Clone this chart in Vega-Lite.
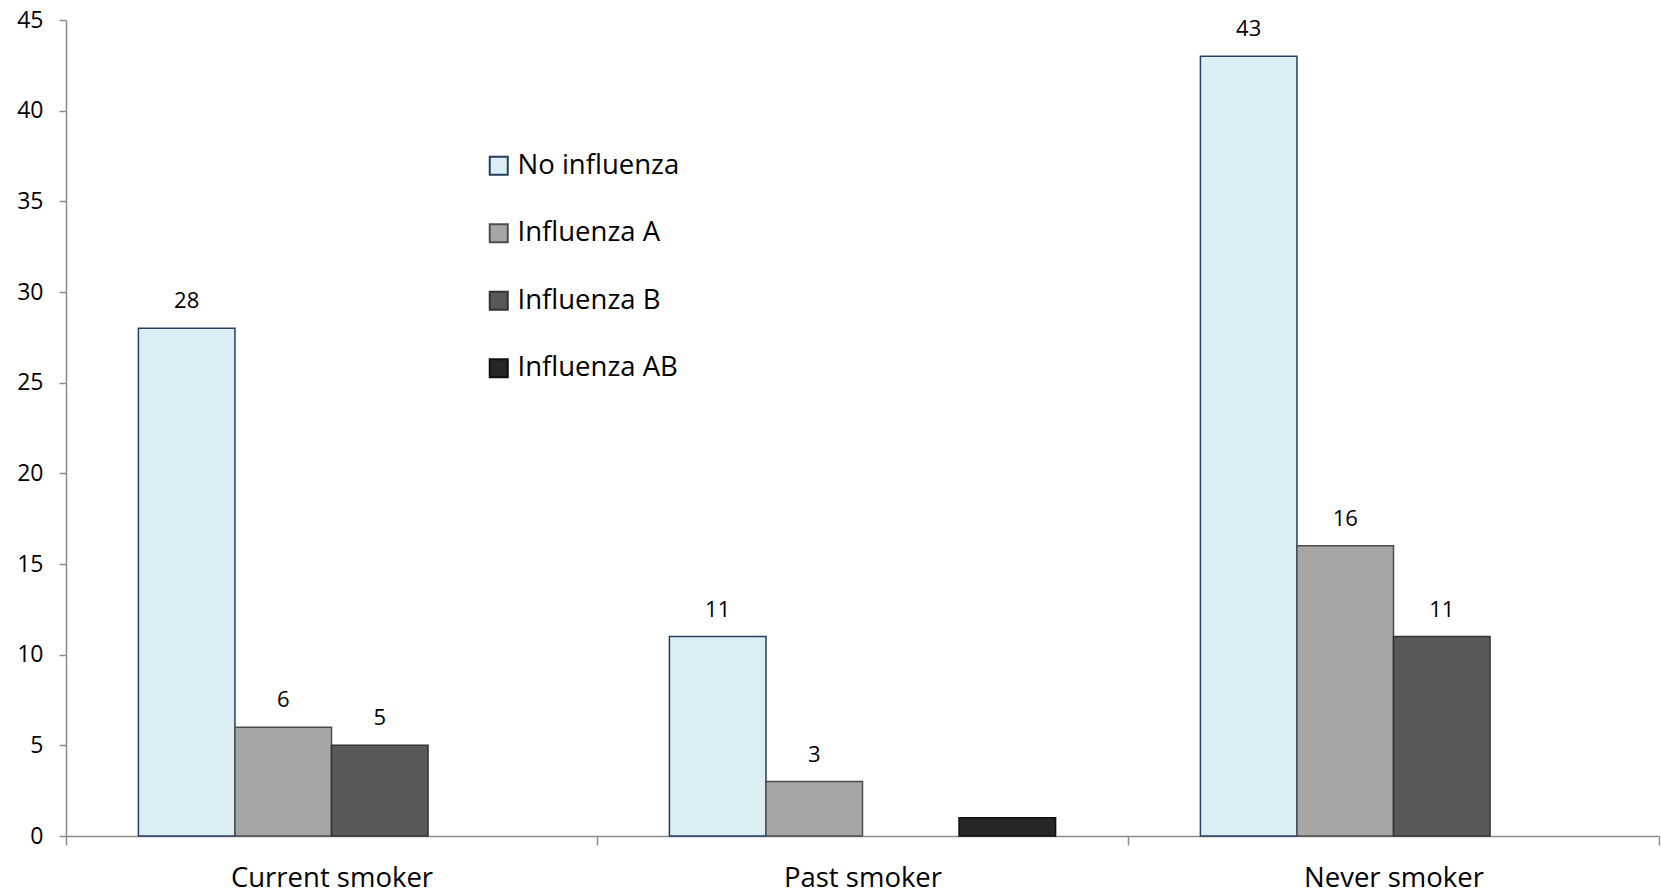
{
  "$schema": "https://vega.github.io/schema/vega-lite/v6.json",
  "autosize": {"type": "none"},
  "width": 1593,
  "height": 816,
  "padding": {"left": 66, "top": 20, "right": 2, "bottom": 60},
  "background": "white",
  "config": {
    "view": {"stroke": null},
    "font": "Open Sans",
    "axis": {"grid": false, "domainColor": "#8c8c8c", "tickColor": "#8c8c8c", "labelColor": "#000000", "labelFont": "Open Sans", "domainWidth": 1.5, "tickWidth": 1.5, "labelLimit": 0}
  },
  "data": {
    "values": [
      {"smoking": "Current smoker", "status": "No influenza", "count": 28},
      {"smoking": "Current smoker", "status": "Influenza A", "count": 6},
      {"smoking": "Current smoker", "status": "Influenza B", "count": 5},
      {"smoking": "Past smoker", "status": "No influenza", "count": 11},
      {"smoking": "Past smoker", "status": "Influenza A", "count": 3},
      {"smoking": "Past smoker", "status": "Influenza AB", "count": 1},
      {"smoking": "Never smoker", "status": "No influenza", "count": 43},
      {"smoking": "Never smoker", "status": "Influenza A", "count": 16},
      {"smoking": "Never smoker", "status": "Influenza B", "count": 11}
    ]
  },
  "encoding": {
    "x": {
      "field": "smoking", "type": "nominal",
      "sort": ["Current smoker", "Past smoker", "Never smoker"],
      "scale": {"paddingInner": 0, "paddingOuter": 0},
      "axis": {"title": null, "labelAngle": 0, "labelFontSize": 27.5, "tickBand": "extent", "tickSize": 9, "labelPadding": 19, "labelLimit": 0}
    },
    "xOffset": {
      "field": "status", "type": "nominal",
      "scale": {"domain": ["No influenza", "Influenza A", "Influenza B", "Influenza AB"], "paddingInner": 0, "paddingOuter": 0.75}
    },
    "y": {
      "field": "count", "type": "quantitative",
      "scale": {"domain": [0, 45], "nice": false},
      "axis": {"title": null, "values": [0, 5, 10, 15, 20, 25, 30, 35, 40, 45], "labelFontSize": 23, "tickSize": 7, "labelPadding": 16}
    }
  },
  "layer": [
    {
      "mark": {"type": "bar", "strokeWidth": 1.5},
      "encoding": {
        "fill": {
          "field": "status", "type": "nominal",
          "scale": {"domain": ["No influenza", "Influenza A", "Influenza B", "Influenza AB"], "range": ["#DAEEF3", "#A6A6A6", "#595959", "#262626"]},
          "legend": {
            "title": null, "orient": "none", "legendX": 419, "legendY": 132,
            "symbolType": "square", "symbolSize": 324, "symbolStrokeWidth": 2, "labelFontSize": 27.5, "labelFont": "Open Sans",
            "rowPadding": 38.5, "labelOffset": 5, "symbolOpacity": 1, "labelLimit": 0
          }
        },
        "stroke": {
          "field": "status", "type": "nominal",
          "scale": {"domain": ["No influenza", "Influenza A", "Influenza B", "Influenza AB"], "range": ["#243F60", "#4d4d4d", "#333333", "#0d0d0d"]},
          "legend": null
        }
      }
    },
    {
      "transform": [{"filter": "datum.status != 'Influenza AB'"}],
      "mark": {"type": "text", "baseline": "middle", "dy": -27, "fontSize": 22, "font": "Open Sans", "color": "#000000"},
      "encoding": {"text": {"field": "count", "type": "quantitative"}}
    }
  ]
}
